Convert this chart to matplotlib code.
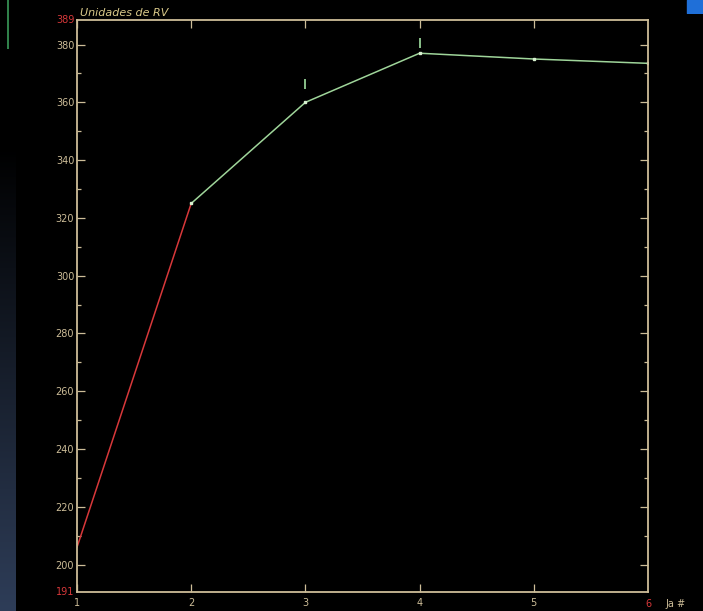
import matplotlib
matplotlib.use("Agg")
import matplotlib.pyplot as plt
import numpy as np
from matplotlib.colors import LinearSegmentedColormap

x_vals = [1, 2, 3, 4, 5, 6]
y_vals = [206, 325, 360, 377, 375, 373.5]
err_x = [3, 4]
err_y = [366.5, 380.5]
y_ticks = [200, 220, 240, 260, 280, 300, 320, 340, 360, 380]
y_minor = [210, 230, 250, 270, 290, 310, 330, 350, 370]
x_ticks = [1, 2, 3, 4, 5]
y_min, y_max = 190.5, 388.5
title = "Unidades de RV"
top_label = "389"
bottom_label = "191"
x_end_label = "6"
x_axis_label = "Ja #"

fg = "#cdbd98"
red = "#d8383a"
green = "#9fd59a"

fig = plt.figure(figsize=(7.03, 6.11), dpi=100, facecolor="black")

# left dark-blue gradient strip
bg = fig.add_axes([0, 0, 0.022, 0.76])
grad = np.linspace(0, 1, 256).reshape(-1, 1)
cm = LinearSegmentedColormap.from_list("g", ["#2e3d58", "#000000"])
bg.imshow(grad, aspect="auto", cmap=cm, origin="lower")
bg.axis("off")
# small green line top-left
gl = fig.add_axes([0, 0.92, 0.03, 0.08])
gl.axis("off")
gl.set_xlim(0, 1)
gl.set_ylim(0, 1)
gl.plot([0.4, 0.4], [0, 1], color="#3a9a5a", lw=1.2)
# blue blob top-right
bb = fig.add_axes([0.965, 0.978, 0.035, 0.022])
bb.axis("off")
bb.set_xlim(0, 1)
bb.set_ylim(0, 1)
bb.fill_between([0.35, 1], 0, 1, color="#1f6fd8")

ax = fig.add_axes([77/703, 19/611, (648-77)/703, (592-20)/611])
ax.set_facecolor("black")
ax.set_xlim(1, 6)
ax.set_ylim(y_min, y_max)

ax.plot(x_vals[:2], y_vals[:2], color=red, lw=1.1)
ax.plot(x_vals[1:], y_vals[1:], color=green, lw=1.1)
ax.plot(x_vals[1:], y_vals[1:], ls="none", marker="s", ms=2, color="#d8f0d0")
ax.plot(err_x, err_y, ls="none", marker="|", ms=7, mew=1.2, color="#a0e0a0")

for s in ax.spines.values():
    s.set_color(fg)
    s.set_linewidth(1.3)

ax.set_yticks(y_ticks)
ax.set_yticks(y_minor, minor=True)
ax.set_xticks(x_ticks)
ax.tick_params(axis="both", which="both", direction="in", colors=fg,
               labelsize=7, top=True, right=True, length=6, width=0.9)
ax.tick_params(axis="both", which="minor", length=3)
ax.tick_params(axis="y", pad=2)
ax.tick_params(axis="x", pad=4)

ax.text(-0.004, 1.0, top_label, transform=ax.transAxes, color=red, fontsize=7,
        ha="right", va="center")
ax.text(-0.004, 0.0, bottom_label, transform=ax.transAxes, color=red, fontsize=7,
        ha="right", va="center")
ax.text(0.005, 1.003, title, transform=ax.transAxes, color="#d9c98a", fontsize=8,
        ha="left", va="bottom", style="italic")
ax.text(1.0, -0.012, x_end_label, transform=ax.transAxes, color=red, fontsize=7,
        ha="center", va="top")
ax.text(1.03, -0.012, x_axis_label, transform=ax.transAxes, color=fg, fontsize=7,
        ha="left", va="top")

fig.savefig("out.png", dpi=100, facecolor="black")
